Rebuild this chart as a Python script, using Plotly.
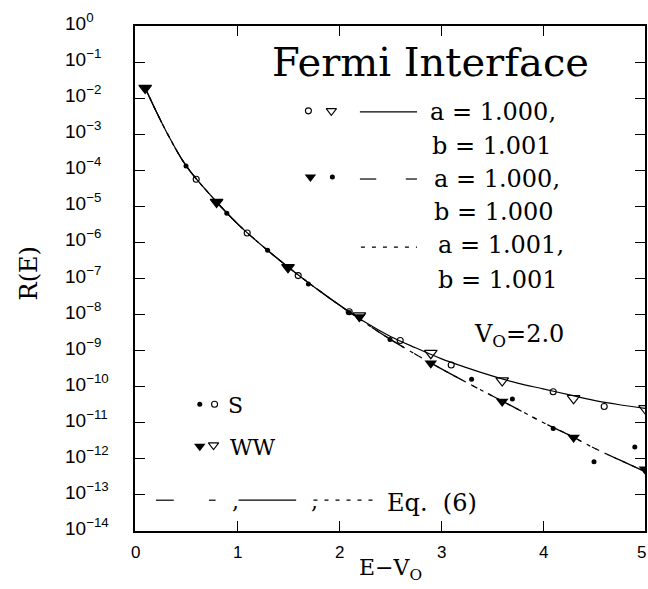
import plotly.graph_objects as go

# ---------------- data ----------------
# x = E - V0 ; y values given as log10 R(E)
curve_x = [0.1, 0.3, 0.5, 0.75, 1.0, 1.25, 1.5, 1.75, 2.0, 2.25, 2.5, 2.75,
           3.0, 3.25, 3.5, 3.75, 4.0, 4.25, 4.5, 4.75, 5.0]
# a=1.000, b=1.001 (solid)
solid_log = [-1.72, -2.89, -3.87, -4.72, -5.47, -6.10, -6.68, -7.22, -7.73,
             -8.20, -8.60, -8.92, -9.22, -9.47, -9.70, -9.90, -10.06, -10.22,
             -10.38, -10.50, -10.60]
# a=1.000, b=1.000 (dashed)
dashed_log = [-1.72, -2.89, -3.87, -4.72, -5.47, -6.10, -6.68, -7.22, -7.73,
              -8.22, -8.68, -9.10, -9.50, -9.88, -10.25, -10.62, -10.99,
              -11.33, -11.70, -12.03, -12.35]
# a=1.001, b=1.001 (dotted)
dotted_log = [-1.72, -2.89, -3.87, -4.72, -5.47, -6.10, -6.68, -7.22, -7.73,
              -8.22, -8.68, -9.10, -9.50, -9.88, -10.25, -10.62, -10.99,
              -11.33, -11.70, -12.03, -12.35]

s_filled_x = [0.5, 0.9, 1.3, 1.7, 2.1, 2.5, 3.3, 3.7, 4.1, 4.5, 4.9]
s_filled_log = [-3.88, -5.19, -6.22, -7.15, -7.94, -8.69, -9.79, -10.34,
                -11.16, -12.08, -11.67]
s_open_x = [0.6, 1.1, 1.6, 2.1, 2.6, 3.1, 4.1, 4.6]
s_open_log = [-4.25, -5.74, -6.92, -7.92, -8.72, -9.40, -10.14, -10.55]
ww_filled_x = [0.1, 0.8, 1.5, 2.2, 2.9, 3.6, 4.3, 5.0]
ww_filled_log = [-1.72, -4.88, -6.69, -8.07, -9.35, -10.41, -11.41, -12.29]
ww_open_x = [0.1, 0.8, 1.5, 2.2, 2.9, 3.6, 4.3, 5.0]
ww_open_log = [-1.72, -4.88, -6.69, -8.03, -9.07, -9.83, -10.32, -10.60]

y_exponents = list(range(0, -15, -1))
x_ticks = [0, 1, 2, 3, 4, 5]


def tolin(v):
    return [10 ** e for e in v]


SERIF = "DejaVu Serif"
SANS = "Liberation Sans"
BLACK = "black"

fig = go.Figure()

# curves
fig.add_trace(go.Scatter(x=curve_x, y=tolin(dotted_log), mode="lines",
                         line=dict(color=BLACK, width=1.2, dash="4px,6px", shape="spline"),
                         showlegend=False))
fig.add_trace(go.Scatter(x=curve_x, y=tolin(dashed_log), mode="lines",
                         line=dict(color=BLACK, width=1.3, dash="38px,12px,5px,12px", shape="spline"),
                         showlegend=False))
fig.add_trace(go.Scatter(x=curve_x, y=tolin(solid_log), mode="lines",
                         line=dict(color=BLACK, width=1.2, shape="spline"),
                         showlegend=False))

# markers
fig.add_trace(go.Scatter(x=ww_open_x, y=tolin(ww_open_log), mode="markers",
                         marker=dict(symbol="triangle-down-open", size=11, color=BLACK,
                                     line=dict(width=1.2, color=BLACK)),
                         showlegend=False))
fig.add_trace(go.Scatter(x=ww_filled_x, y=tolin(ww_filled_log), mode="markers",
                         marker=dict(symbol="triangle-down", size=11, color=BLACK),
                         showlegend=False))
fig.add_trace(go.Scatter(x=s_open_x, y=tolin(s_open_log), mode="markers",
                         marker=dict(symbol="circle-open", size=6, color=BLACK,
                                     line=dict(width=1.1, color=BLACK)),
                         showlegend=False))
fig.add_trace(go.Scatter(x=s_filled_x, y=tolin(s_filled_log), mode="markers",
                         marker=dict(symbol="circle", size=5, color=BLACK),
                         showlegend=False))

# ---- legend key glyphs on a hidden overlay axis spanning the plot area (0..1) ----
key = dict(xaxis="x2", yaxis="y2", showlegend=False, hoverinfo="skip")
fig.add_trace(go.Scatter(x=[0.340], y=[0.832], mode="markers",
                         marker=dict(symbol="circle-open", size=6, color=BLACK, line=dict(width=1.1)), **key))
fig.add_trace(go.Scatter(x=[0.385], y=[0.832], mode="markers",
                         marker=dict(symbol="triangle-down-open", size=9, color=BLACK, line=dict(width=1.1)), **key))
fig.add_trace(go.Scatter(x=[0.344], y=[0.701], mode="markers",
                         marker=dict(symbol="triangle-down", size=10, color=BLACK), **key))
fig.add_trace(go.Scatter(x=[0.387], y=[0.701], mode="markers",
                         marker=dict(symbol="circle", size=5, color=BLACK), **key))
fig.add_trace(go.Scatter(x=[0.127], y=[0.251], mode="markers",
                         marker=dict(symbol="circle", size=5, color=BLACK), **key))
fig.add_trace(go.Scatter(x=[0.156], y=[0.251], mode="markers",
                         marker=dict(symbol="circle-open", size=6, color=BLACK, line=dict(width=1.1)), **key))
fig.add_trace(go.Scatter(x=[0.127], y=[0.168], mode="markers",
                         marker=dict(symbol="triangle-down", size=10, color=BLACK), **key))
fig.add_trace(go.Scatter(x=[0.154], y=[0.170], mode="markers",
                         marker=dict(symbol="triangle-down-open", size=9, color=BLACK, line=dict(width=1.1)), **key))

shapes = []


def seg(x0, x1, y, dash="solid", w=1.2):
    shapes.append(dict(type="line", xref="x2", yref="y2", x0=x0, x1=x1, y0=y, y1=y,
                       line=dict(color=BLACK, width=w, dash=dash)))


seg(0.441, 0.553, 0.830)                 # solid key
seg(0.441, 0.473, 0.697)                 # dashed key: long
seg(0.531, 0.553, 0.697)                 # dashed key: short
seg(0.443, 0.553, 0.562, dash="4px,7px")  # dotted key
seg(0.041, 0.076, 0.061)                 # Eq row: long dash
seg(0.145, 0.158, 0.061)                 # Eq row: short dash
seg(0.203, 0.316, 0.061)                 # Eq row: solid
seg(0.350, 0.477, 0.061, dash="4px,7px")  # Eq row: dotted

annotations = []


def txt(x, y, text, size, anchor="left", font=SERIF, **kw):
    annotations.append(dict(x=x, y=y, xref="x2", yref="y2", text=text, showarrow=False,
                            xanchor=anchor, yanchor="middle",
                            font=dict(family=font, size=size, color=BLACK), **kw))


txt(0.580, 0.929, "Fermi Interface", 40, anchor="center")
txt(0.574, 0.830, "a = 1.000,", 24)
txt(0.578, 0.762, "b = 1.001", 24)
txt(0.582, 0.697, "a = 1.000,", 24)
txt(0.582, 0.632, "b = 1.000", 24)
txt(0.590, 0.566, "a = 1.001,", 24)
txt(0.590, 0.497, "b = 1.001", 24)
txt(0.660, 0.388, "V<sub>O</sub>=2.0", 24)
txt(0.178, 0.248, "S", 22)
txt(0.182, 0.166, "WW", 22)
txt(0.186, 0.058, ",", 22)
txt(0.342, 0.058, ",", 22)
txt(0.490, 0.055, "Eq.  (6)", 24)

# y tick labels (left aligned as in the original)
for e in y_exponents:
    lab = "10<sup>%s</sup>" % (str(e).replace("-", "\u2212"))
    annotations.append(dict(x=-0.1406, y=e, xref="paper", yref="y", text=lab, showarrow=False,
                            xanchor="left", yanchor="middle", yshift=4,
                            font=dict(family=SANS, size=19, color=BLACK)))

# x tick labels (the last one kept inside the page, as in the original)
for v in x_ticks:
    annotations.append(dict(x=v, y=-0.042, xref="x", yref="paper", text=str(v), showarrow=False,
                            xanchor="right" if v == x_ticks[-1] else "center",
                            xshift=3 if v == x_ticks[-1] else 0,
                            yanchor="middle", font=dict(family=SANS, size=17, color=BLACK)))

# axis titles
annotations.append(dict(x=0.50, y=-0.077, xref="paper", yref="paper",
                        text="E\u2212V<sub>O</sub>", showarrow=False, xanchor="center",
                        yanchor="middle", font=dict(family=SERIF, size=22, color=BLACK)))
annotations.append(dict(x=-0.207, y=0.511, xref="paper", yref="paper", text="R(E)",
                        showarrow=False, textangle=-90, xanchor="center", yanchor="middle",
                        font=dict(family=SERIF, size=24, color=BLACK)))

fig.update_layout(
    width=648, height=589,
    margin=dict(l=135, r=1, t=26, b=58),
    paper_bgcolor="white", plot_bgcolor="white",
    showlegend=False,
    xaxis=dict(range=[0, 5], tickvals=x_ticks, showticklabels=False,
               ticks="inside", ticklen=10, tickwidth=1.2, tickcolor=BLACK,
               showline=True, linecolor=BLACK, linewidth=1.5, mirror="ticks",
               showgrid=False, zeroline=False),
    yaxis=dict(type="log", range=[-14, 0], tickvals=[10 ** e for e in y_exponents],
               showticklabels=False,
               ticks="inside", ticklen=10, tickwidth=1.2, tickcolor=BLACK,
               showline=True, linecolor=BLACK, linewidth=1.5, mirror="ticks",
               showgrid=False, zeroline=False),
    xaxis2=dict(overlaying="x", range=[0, 1], visible=False, anchor="y2"),
    yaxis2=dict(overlaying="y", range=[0, 1], visible=False, anchor="x2"),
    shapes=shapes,
    annotations=annotations,
)

# remove the default page margin / scrollbars so the figure fills the window exactly
fig.write_html(
    "out.html",
    config={"displayModeBar": False},
    post_script=("document.body.style.margin='0';"
                 "document.body.style.overflow='hidden';"
                 "document.documentElement.style.overflow='hidden';"),
)
